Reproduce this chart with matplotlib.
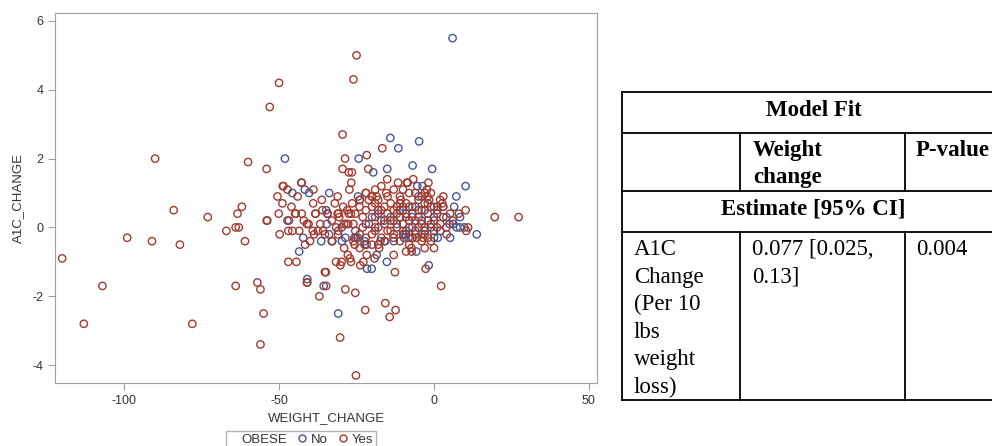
import numpy as np
import matplotlib
matplotlib.use("Agg")
import matplotlib.pyplot as plt
from matplotlib.lines import Line2D

# WEIGHT_CHANGE, A1C_CHANGE pairs
obese_yes = np.array([
    (-120, -0.9), (-113, -2.8), (-107, -1.7), (-99, -0.3), (-90, 2.0), (-91, -0.4),
    (-84, 0.5), (-82, -0.5), (-78, -2.8), (-73, 0.3), (-67, -0.1), (-64, 0.0),
    (-63, 0.0), (-63.4, 0.4), (-62, 0.6), (-61, -0.4), (-64, -1.7), (-60, 1.9),
    (-57, -1.6), (-56, -1.8), (-55, -2.5), (-56, -3.4), (-54, 1.7), (-54, 0.2),
    (-50, 4.2), (-53, 3.5), (-25, 5.0), (-26, 4.3), (-29.5, 2.7), (-16.7, 2.3),
    (-28.7, 2.0), (-21.7, 2.1), (-29.5, 1.7), (-27.5, 1.6), (-21.2, 1.7), (-15.1, 1.4),
    (-26.7, 1.3), (-42.7, 1.3), (-11.6, 1.3), (-8.8, 1.3), (-8.5, 1.3), (-6.7, 1.4),
    (-1.8, 1.3), (-27.3, 1.1), (-38.9, 1.1), (-31.1, 0.9), (-22, 1.0), (-20, 0.9),
    (-18.5, 0.9), (-15.4, 1.0), (-36.2, 0.8), (-24, 0.8), (10.2, 0.5), (19.6, 0.3),
    (27.3, 0.3), (2.7, 0.7), (2.9, 0.6), (-48.8, 1.2), (-48.6, 1.2), (-47.3, 1.1),
    (-50.5, 0.9), (-48.9, 0.7), (-50.1, 0.4), (-44.6, 0.4), (-42.7, 0.4), (-38.3, 0.4),
    (-26.4, 0.7), (-29.3, 0.6), (-31.1, 0.4), (-34.3, 0.4),
    (-25.2, -4.3), (-30.3, -3.2), (-22.2, -2.4), (-15.7, -2.2), (-12.4, -2.4), (-14.3, -2.6),
    (2.3, -1.7), (-28.6, -1.8), (-25.4, -1.9), (-37, -2.0), (-34.8, -1.7), (-41, -1.6),
    (-12.6, -1.3), (-35.2, -1.3), (-23.8, -1.1), (-22.8, -1.0), (-2.7, -1.2), (-31.6, -1.0),
    (-29.8, -1.0), (-30.2, -1.1), (-27.1, -0.9), (-26.8, -1.0), (-27.8, -0.8), (-13, -0.8),
    (-7.2, -0.7), (-47, -1.0), (-44.4, -1.0), (-21.7, -0.8), (-19.2, -0.9), (-7.3, -0.6),
    (-17.7, -0.6), (-18, -0.5), (-25.6, -0.5), (-26, -0.4), (-22.4, -0.5), (-13.1, -0.3),
    (-5.6, -0.3), (-3.6, -0.3), (4.1, -0.2), (10.4, -0.1), (11, 0.0), (5.2, 0.4),
    (-53.8, 0.2), (-46.8, 0.2), (-44.8, 0.4), (-38.2, 0.4), (-49.8, -0.2), (-47, -0.1),
    (-45.7, -0.1), (-43.5, -0.1), (-41.6, -0.5), (-40, -0.4), (-42, 0.2), (-41, 0.1),
    (-39.1, -0.1), (-38.7, -0.2), (-35.8, -0.1), (-35.2, -0.2), (-36.7, 0.1), (-37.5, -0.1),
    (-31, -0.2), (-30.9, -0.1), (-31.6, 0.0), (-29, 0.1), (-28.3, 0.1), (-27.7, 0.1),
    (-25.7, -0.3), (-30.8, 0.4), (-30.6, 0.3), (-27.5, 0.4), (-26.8, 0.4), (-25.4, 0.4),
    (-34.9, -1.3), (-40.9, -1.6), (-42.8, 1.3), (-40.5, 0.1), (-10.7, 0.8), (-2.1, 0.9),
    (-1.6, 0.8), (-2.3, 1.1), (-26.5, 1.6), (-21.9, 1.0), (-20.1, 0.9), (-23.9, 0.8),
    (-24, 0.6), (-23, 0.3), (-22, 0.5), (-21, 0.1), (-20, 0.6), (-20, -0.2),
    (-19, 0.3), (-19, 0.7), (-18, 0.0), (-18, 0.5), (-17, 0.2), (-17, -0.3),
    (-16, 0.6), (-16, 0.1), (-15, 0.4), (-15, -0.1), (-14, 0.7), (-14, 0.2),
    (-13, 0.5), (-13, -0.2), (-12, 0.0), (-12, 0.6), (-11, 0.3), (-11, -0.4),
    (-10, 0.1), (-10, 0.5), (-9, -0.1), (-9, 0.7), (-8, 0.2), (-8, -0.5),
    (-7, 0.4), (-7, 0.0), (-6, 0.6), (-6, -0.2), (-5, 0.3), (-5, 0.8),
    (-4, 0.1), (-4, -0.4), (-3, 0.5), (-3, 0.0), (-2, 0.2), (-2, -0.3),
    (-1, 0.6), (-1, 0.1), (0, 0.3), (0, -0.1), (1, 0.5), (2, 0.1),
    (3, 0.3), (4, 0.0), (6, 0.2), (8, 0.4), (-23, 0.0), (-22, -0.3),
    (-21, 0.8), (-19, -0.1), (-18, 0.8), (-17, 0.5), (-16, -0.4), (-15, 0.9),
    (-14, -0.1), (-13, 0.2), (-12, 0.4), (-11, 0.7), (-10, -0.2), (-9, 0.3),
    (-8, 0.6), (-7, -0.3), (-6, 0.2), (-5, 0.0), (-4, 0.5), (-3, -0.2),
    (-2, 0.7), (-1, -0.4), (0, 0.6), (1, 0.0), (-26, 0.1), (-24, -0.2),
    (-28, 0.5), (-33, 0.2), (-32, 0.7), (-36, 0.5), (-39, 0.7), (-44, 0.9),
    (-46, 0.6), (-33, -0.4), (-29, -0.6), (-24, -0.6), (-20, -0.5), (-11, 0.9),
    (-8, 1.0), (-4, 0.9), (-3, 1.0), (-6, 1.0), (-10, 1.1), (-13, 1.1),
    (-17, 1.2), (-19, 1.1), (-9, -0.7), (-3, -0.6), (0, -0.6), (2, 0.8),
    (3, 0.9), (-1, 1.0),
])

obese_no = np.array([
    (-47.3, 0.2), (-42.2, -0.3), (-36.4, -0.4), (-43.5, -0.7), (-40.9, -1.5), (-35.6, -1.7),
    (-30.9, -2.5), (-32.8, -0.4), (-29.7, -0.4), (-28.6, -0.3), (-33.9, -0.2), (-34.6, 0.1),
    (-34.4, 0.4), (-34.8, 0.5), (-29.8, 0.0), (-25.4, -0.1), (-24.6, -0.3), (-21.6, -1.2),
    (-20.1, -1.2), (-15.2, -1.0), (-1.7, -1.1), (-5.7, -0.7), (-18.5, -0.8), (-17.3, -0.4),
    (-15.8, -0.4), (-25.2, -0.3), (-22.4, -0.4), (-21.7, -0.5), (-9.7, -0.3), (-8.2, -0.3),
    (-6.9, -0.3), (-9.9, -0.2), (-9.2, -0.2), (1.2, -0.3), (5.2, -0.3), (13.8, -0.2),
    (7.3, 0.0), (8.4, 0.0), (9.8, 0.0), (8.4, 0.3), (6.2, 0.1), (6.0, 5.5),
    (-14.1, 2.6), (-4.8, 2.5), (-11.5, 2.3), (-24.3, 2.0), (-48.1, 2.0), (-6.9, 1.8),
    (-19.6, 1.6), (-15.1, 1.7), (-0.6, 1.7), (-5.4, 1.2), (-3.7, 1.2), (10.2, 1.2),
    (-41.7, 1.1), (-40.3, 1.0), (-33.8, 1.0), (-45.7, 1.0), (-24.5, 0.9), (7.2, 0.9),
    (6.5, 0.6), (1.1, 0.6), (-5, 0.9),
    (-12, 0.1), (-11, 0.5), (-10, -0.1), (-9, 0.4), (-8, 0.0), (-7, 0.3),
    (-6, -0.1), (-5, 0.5), (-4, 0.2), (-3, -0.1), (-2, 0.4), (-1, 0.0),
    (0, 0.2), (1, 0.4), (2, -0.1), (3, 0.6), (4, 0.3), (5, 0.1),
    (-14, 0.3), (-13, -0.4), (-16, 0.2), (-18, 0.4), (-20, 0.3), (-22, 0.1),
    (-19, 0.0), (-7, 0.6), (-3, 0.7), (-10, 0.6), (-4, -0.2), (0, -0.3),
])

x_ticks = [-100, -50, 0, 50]
y_ticks = [-4, -2, 0, 2, 4, 6]

table_title = "Model Fit"
col_headers = ["Weight\nchange", "P-value"]
subheader = "Estimate [95% CI]"
row_label = "A1C\nChange\n(Per 10\nlbs\nweight\nloss)"
row_estimate = "0.077 [0.025,\n0.13]"
row_pvalue = "0.004"

blue = "#445694"
red = "#A23A2E"
grey = "#A0A0A0"
plt.rcParams["font.family"] = ["Liberation Sans", "DejaVu Sans"]
plt.rcParams["axes.unicode_minus"] = False

fig = plt.figure(figsize=(9.92, 4.46), dpi=100)
ax = fig.add_axes([55 / 992, 1 - 383 / 446, 542 / 992, 370 / 446])

ax.scatter(obese_no[:, 0], obese_no[:, 1], s=28, facecolors="none",
           edgecolors=blue, linewidths=1.0, label="No")
ax.scatter(obese_yes[:, 0], obese_yes[:, 1], s=28, facecolors="none",
           edgecolors=red, linewidths=1.0, label="Yes")

ax.set_xlim(-122.3, 52.6)
ax.set_ylim(-4.52, 6.23)
ax.set_xticks(x_ticks)
ax.set_yticks(y_ticks)
ax.tick_params(colors=grey, labelcolor="#333333", labelsize=9, length=5)
for sp in ax.spines.values():
    sp.set_color(grey)
ax.set_xlabel("WEIGHT_CHANGE", fontsize=9.5, color="#333333", labelpad=4)
ax.set_ylabel("A1C_CHANGE", fontsize=9.5, color="#333333", labelpad=6)

handles = [Line2D([], [], linestyle="none"),
           Line2D([], [], marker="o", linestyle="none", markerfacecolor="none",
                  markeredgecolor=blue, markersize=5),
           Line2D([], [], marker="o", linestyle="none", markerfacecolor="none",
                  markeredgecolor=red, markersize=5)]
leg = fig.legend(handles, ["OBESE", "No", "Yes"], ncol=3, loc="upper left",
                 bbox_to_anchor=(226 / 992, 1 - 431 / 446), fontsize=9.5,
                 frameon=True, fancybox=False, handlelength=0.6, handletextpad=0.4,
                 columnspacing=0.8, borderpad=0.2, borderaxespad=0)
leg.get_frame().set_edgecolor(grey)
leg.get_frame().set_linewidth(1.0)
for t in leg.get_texts():
    t.set_color("#333333")

# table drawn in pixel coordinates
tx = fig.add_axes([0, 0, 1, 1])
tx.set_xlim(0, 992)
tx.set_ylim(446, 0)
tx.axis("off")
lw = 1.3
left, c1, c2, right = 622, 740, 905, 1005
r0, r1, r2, r3, r4 = 92, 133, 191, 232, 400
for yy in [r0, r1, r2, r3, r4]:
    tx.plot([left, right], [yy, yy], color="black", lw=lw, clip_on=False)
tx.plot([left, left], [r0, r4], color="black", lw=lw)
tx.plot([c1, c1], [r1, r2], color="black", lw=lw)
tx.plot([c2, c2], [r1, r2], color="black", lw=lw)
tx.plot([c1, c1], [r3, r4], color="black", lw=lw)
tx.plot([c2, c2], [r3, r4], color="black", lw=lw)

serif = ["Liberation Serif", "DejaVu Serif"]
fs = 16.5
ls = 1.38
tx.text((left + right) / 2, 110, table_title, ha="center", va="center",
        fontsize=fs, fontweight="bold", family=serif)
tx.text(753, 140, col_headers[0], ha="left", va="top", fontsize=fs,
        fontweight="bold", family=serif, linespacing=ls)
tx.text(916, 140, col_headers[1], ha="left", va="top", fontsize=fs,
        fontweight="bold", family=serif)
tx.text((left + right) / 2, 209, subheader, ha="center", va="center",
        fontsize=fs, fontweight="bold", family=serif)
tx.text(634, 239, row_label, ha="left", va="top", fontsize=fs,
        family=serif, linespacing=1.41)
tx.text(752, 239, row_estimate, ha="left", va="top", fontsize=fs,
        family=serif, linespacing=1.41)
tx.text(916, 239, row_pvalue, ha="left", va="top", fontsize=fs, family=serif)

fig.savefig("out.png", dpi=100)
